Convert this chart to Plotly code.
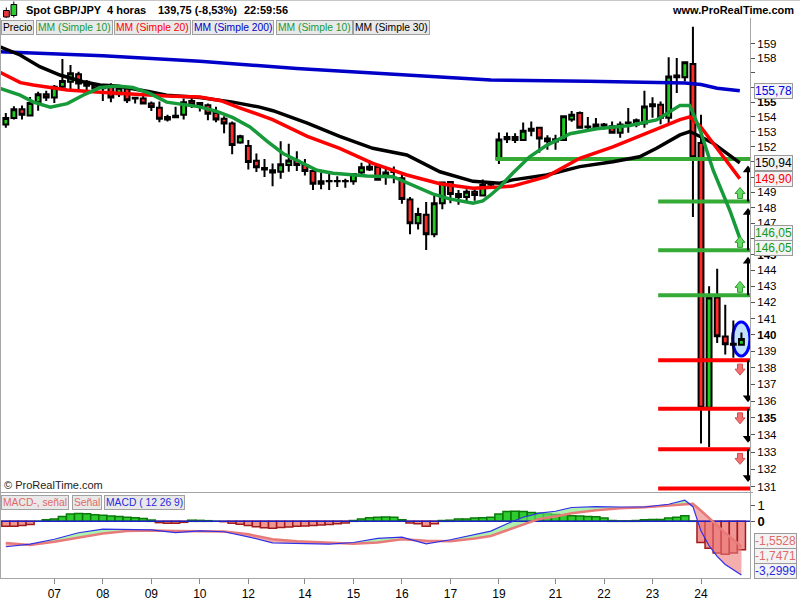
import math
import plotly.graph_objects as go

# ---------------- data ----------------
candle_idx = list(range(92))
opens = [153.49, 153.93, 154.51, 154.10, 155.00, 155.54, 155.31, 156.05, 156.39, 156.90,
         156.39, 156.17, 156.00, 156.17, 155.54, 155.94, 155.30, 155.24, 154.90, 154.62,
         153.82, 153.98, 154.15, 155.07, 154.94, 154.79, 154.26, 153.87, 153.55, 152.28,
         152.05, 151.08, 150.60, 150.45, 150.35, 150.80, 151.08, 150.80, 150.40, 149.56,
         149.75, 149.72, 149.72, 149.72, 150.30, 150.50, 150.68, 150.02, 150.35, 149.93,
         148.54, 147.00, 147.55, 146.30, 148.30, 149.68, 148.90, 148.70, 149.05, 148.80,
         149.50, 151.17, 152.50, 152.65, 152.45, 153.08, 153.27, 152.55, 152.35, 152.45,
         153.82, 154.26, 153.35, 153.33, 153.49, 153.37, 152.93, 153.60, 153.49, 153.55,
         154.72, 154.82, 153.95, 156.82, 156.70, 157.60, 152.25, 135.60, 142.30, 139.90,
         139.45, 139.40]
highs = [154.27, 154.72, 154.78, 155.35, 155.70, 155.77, 156.17, 157.95, 157.54, 157.07,
         156.50, 156.30, 156.05, 156.29, 156.17, 156.05, 155.35, 155.45, 155.05, 155.05,
         154.15, 154.68, 155.24, 155.31, 155.00, 154.90, 154.68, 154.04, 153.70, 152.80,
         152.45, 151.56, 151.20, 150.90, 152.37, 152.20, 151.70, 151.20, 150.58, 150.30,
         150.25, 150.05, 149.90, 150.25, 150.95, 151.10, 150.80, 150.68, 150.70, 150.13,
         148.70, 148.00, 148.37, 148.85, 149.70, 149.72, 149.15, 149.20, 149.30, 149.85,
         149.65, 152.95, 152.95, 152.90, 153.63, 153.70, 153.33, 152.77, 152.80, 154.08,
         154.40, 154.37, 154.00, 153.93, 153.60, 153.70, 153.70, 154.60, 153.90, 155.77,
         155.33, 155.05, 158.07, 158.02, 157.78, 160.20, 154.15, 143.00, 144.10, 141.86,
         140.88, 140.15]
lows = [153.27, 153.82, 153.82, 154.05, 154.42, 155.07, 154.94, 155.80, 155.83, 155.83,
        155.83, 155.80, 155.07, 155.00, 155.35, 154.94, 154.90, 154.90, 154.40, 153.64,
        153.70, 153.93, 153.82, 154.60, 154.36, 153.78, 153.64, 152.90, 151.50, 152.20,
        150.50, 150.33, 150.00, 149.40, 149.90, 150.35, 150.40, 150.10, 149.15, 149.20,
        149.15, 149.35, 149.30, 149.50, 150.10, 150.40, 149.98, 149.50, 149.60, 148.26,
        146.30, 146.60, 145.30, 146.10, 147.90, 148.30, 148.20, 148.37, 148.45, 148.80,
        149.30, 150.87, 152.25, 152.25, 152.40, 152.70, 151.60, 151.80, 151.80, 152.40,
        153.67, 153.20, 153.05, 153.15, 153.15, 152.93, 152.60, 152.93, 153.30, 153.27,
        153.95, 153.50, 153.50, 155.62, 156.42, 147.40, 133.50, 133.30, 139.50, 138.80,
        138.60, 139.35]
closes = [153.93, 154.51, 154.15, 154.94, 155.54, 155.31, 156.05, 156.44, 156.97, 156.27,
          156.12, 155.94, 155.95, 155.31, 155.98, 155.12, 155.25, 154.90, 154.67, 153.87,
          154.00, 154.08, 155.00, 154.85, 154.79, 154.21, 153.82, 153.55, 152.12, 152.70,
          151.00, 150.65, 150.50, 150.30, 150.84, 151.10, 150.80, 150.40, 149.56, 149.72,
          149.72, 149.75, 149.75, 150.20, 150.65, 150.68, 149.83, 150.30, 150.33, 148.57,
          147.00, 147.60, 146.30, 148.30, 149.65, 148.90, 148.70, 149.05, 148.83, 149.50,
          149.55, 152.48, 152.65, 152.45, 153.08, 153.20, 152.55, 152.37, 152.50, 154.04,
          154.15, 153.27, 153.30, 153.49, 153.40, 152.93, 153.49, 153.62, 153.78, 154.70,
          154.85, 153.95, 156.75, 156.70, 157.72, 151.30, 135.60, 142.30, 139.92, 139.43,
          139.40, 139.75]

day_tick_idx = [6, 12, 18, 24, 30, 37, 43, 49, 55, 61, 68, 74, 80, 86]
day_tick_labels = ["07", "08", "09", "10", "12", "14", "15", "16", "17", "19", "21", "22", "23", "24"]

sma10_x = [-0.72, 1.76, 3.4, 5.5, 7.6, 9.55, 11.65, 13.75, 15.7, 17.8, 19.9, 21.9, 24.0, 26.1,
           28.1, 30.2, 32.3, 34.3, 36.4, 38.5, 40.5, 44.7, 47.9, 48.8, 50.9, 52.8, 54.9, 57.8,
           59.0, 59.9, 61.1, 62.7, 64.8, 66.9, 69.8, 73.1, 77.2, 80.5, 83.4, 84.6, 85.9, 87.5,
           89.6, 90.8]
sma10_y = [155.94, 155.47, 155.00, 154.66, 154.90, 155.47, 155.99, 156.10, 155.99, 155.59,
           155.00, 154.83, 154.68, 154.37, 153.95, 153.33, 152.38, 151.56, 151.00, 150.45,
           150.25, 150.07, 150.03, 149.82, 149.30, 148.90, 148.58, 148.30, 148.45, 148.80,
           149.35, 150.25, 151.34, 152.10, 152.87, 153.20, 153.43, 153.80, 154.78, 154.78,
           153.10, 150.45, 147.78, 146.05]

sma20_x = [-0.72, 1.8, 3.4, 7.6, 11.7, 15.7, 19.9, 24.0, 26.6, 29.0, 31.4, 33.0, 37.3, 41.3,
           45.4, 49.6, 53.7, 57.8, 61.1, 62.7, 66.9, 71.0, 75.1, 79.3, 83.4, 84.6, 85.9, 87.5,
           90.8]
sma20_y = [157.03, 156.33, 156.17, 155.83, 155.67, 155.52, 155.42, 155.35, 155.10, 154.60,
           154.10, 153.82, 152.70, 151.90, 150.90, 150.14, 149.57, 149.27, 149.35, 149.41,
           150.03, 151.24, 152.00, 152.93, 153.82, 154.00, 153.37, 152.24, 149.90]

sma30_x = [-0.72, 1.76, 4.2, 6.7, 9.55, 11.65, 13.75, 15.7, 17.8, 19.9, 24.0, 28.1, 31.4,
           33.05, 37.3, 41.3, 45.4, 49.6, 53.7, 57.8, 61.1, 62.7, 66.9, 71.0, 75.1, 78.4,
           80.5, 83.4, 84.6, 85.9, 87.5, 90.8]
sma30_y = [158.80, 158.23, 157.42, 156.85, 156.39, 156.17, 156.10, 155.94, 155.71, 155.47,
           155.31, 155.00, 154.66, 154.42, 153.59, 152.70, 151.90, 151.46, 150.35, 149.72,
           149.60, 149.82, 150.14, 150.69, 151.01, 151.34, 151.90, 152.79, 153.02, 152.69,
           152.24, 150.94]

sma200_x = [-0.72, 12, 24, 36, 48, 60, 72, 80, 84, 86, 88, 90.8]
sma200_y = [158.45, 158.18, 157.80, 157.30, 156.90, 156.50, 156.42, 156.38, 156.30, 156.20,
            155.95, 155.78]

macd_x = [0, 3, 6, 9, 12, 15, 18, 21, 24, 27, 30, 33, 36, 40, 43, 46, 49, 52, 55, 58, 60,
          62, 64, 66, 68, 70, 73, 76, 79, 82, 84, 85, 86, 87, 88, 89, 90, 91]
macd_line = [-1.56, -1.40, -1.10, -0.70, -0.48, -0.48, -0.52, -0.69, -0.58, -0.64, -0.95,
             -1.32, -1.35, -1.40, -1.30, -1.05, -0.97, -1.38, -1.13, -0.80, -0.60, -0.15,
             0.25, 0.50, 0.62, 0.85, 0.90, 0.88, 0.88, 1.05, 1.30, 0.90, -0.60, -1.50,
             -2.15, -2.65, -3.00, -3.30]
macd_signal = [-1.33, -1.45, -1.25, -1.00, -0.75, -0.60, -0.56, -0.60, -0.62, -0.63, -0.80,
               -1.10, -1.22, -1.32, -1.37, -1.30, -1.10, -1.20, -1.22, -1.05, -0.90, -0.55,
               -0.20, 0.15, 0.30, 0.50, 0.68, 0.80, 0.86, 0.95, 1.05, 1.08, 0.65, 0.22,
               -0.25, -0.72, -1.15, -1.55]
macd_hist = [-0.30, -0.30, -0.25, -0.20, 0.00, 0.10, 0.15, 0.30, 0.45, 0.48,
             0.46, 0.40, 0.37, 0.33, 0.30, 0.25, 0.22, 0.18, 0.08, -0.08,
             -0.12, -0.12, -0.06, 0.07, 0.06, 0.04, 0.00, -0.02, -0.12, -0.18,
             -0.25, -0.33, -0.40, -0.42, -0.38, -0.35, -0.30, -0.28, -0.25, -0.22,
             -0.20, -0.15, -0.10, 0.05, 0.15, 0.22, 0.25, 0.27, 0.25, 0.10,
             -0.10, -0.15, -0.30, -0.15, 0.05, 0.07, 0.15, 0.15, 0.20, 0.22,
             0.25, 0.45, 0.60, 0.62, 0.60, 0.55, 0.50, 0.45, 0.42, 0.40,
             0.35, 0.32, 0.30, 0.28, 0.20, 0.05, 0.03, 0.03, 0.05, 0.10,
             0.12, 0.12, 0.20, 0.25, 0.35, 0.02, -1.30, -1.66, -1.94, -2.02,
             -1.94, -1.75]

green_levels = [151.19, 148.41, 145.27, 142.44]
green_level_start = [60.6, 80.7, 80.7, 80.7]
red_levels = [138.46, 135.54, 133.16, 130.90]
red_level_start = 80.7

price_ticks = list(range(131, 160))
price_ticks_hidden = [146, 150, 151, 156, 157]   # labels covered by value boxes in the original
price_labels = [(155.78, "155,78", "#0000ee", 0), (150.94, "150,94", "#000000", 0),
                (149.90, "149,90", "#ff0000", 0), (146.05, "146,05", "#119922", 5),
                (146.05, "146,05", "#119922", -10)]
macd_labels = [(-1.5528, "-1,5528", "#e06a6a", 6), (-1.7471, "-1,7471", "#e06a6a", -6),
               (-3.2999, "-3,2999", "#2a2ae0", 4)]

# ---------------- geometry ----------------
W, H = 800, 600
ML, MR, MT, MB = 0, 50, 18, 22
PW, PH = W - ML - MR, H - MT - MB
X_RANGE = [-0.72, 92.06]
P_RANGE = [130.70, 160.81]
M_RANGE = [-3.48, 1.74]
P_TOP, P_BOT = 18, 492       # price panel pixels
M_TOP = 493
FONT = "Liberation Sans, Arial, sans-serif"

GREEN_C = "#1fcc1f"
RED_C = "#ff2a2a"
MA10_C = "#179a3a"
MA20_C = "#ff0000"
MA30_C = "#000000"
MA200_C = "#0000c8"


def paper_x(px):
    return (px - ML) / PW


def paper_y(py):
    return (H - MB - py) / PH


px_per_idx = PW / (X_RANGE[1] - X_RANGE[0])
px_per_ln = (P_BOT - P_TOP) / math.log(P_RANGE[1] / P_RANGE[0])


def shift_price(p, dpx):
    return p * math.exp(dpx / px_per_ln)


def price_to_py(p):
    return P_TOP + math.log(P_RANGE[1] / p) * px_per_ln


def idx_at_px(px):
    return X_RANGE[0] + px / px_per_idx


fig = go.Figure()

# level lines
for lvl, st in zip(green_levels, green_level_start):
    fig.add_trace(go.Scatter(x=[st, X_RANGE[1]], y=[lvl, lvl], mode="lines",
                             line=dict(color="#35aa35", width=4), hoverinfo="skip"))
for lvl in red_levels:
    fig.add_trace(go.Scatter(x=[red_level_start, X_RANGE[1]], y=[lvl, lvl], mode="lines",
                             line=dict(color="#ff0000", width=4), hoverinfo="skip"))

# candles
fig.add_trace(go.Candlestick(
    x=candle_idx, open=opens, high=highs, low=lows, close=closes,
    increasing=dict(fillcolor=GREEN_C, line=dict(color="black", width=2)),
    decreasing=dict(fillcolor=RED_C, line=dict(color="black", width=2)),
    whiskerwidth=0, hoverinfo="skip", xaxis="x", yaxis="y"))

# moving averages
for xs, ys, col in [(sma200_x, sma200_y, MA200_C), (sma30_x, sma30_y, MA30_C),
                    (sma20_x, sma20_y, MA20_C), (sma10_x, sma10_y, MA10_C)]:
    fig.add_trace(go.Scatter(x=xs, y=ys, mode="lines", line=dict(color=col, width=3.5),
                             hoverinfo="skip", xaxis="x", yaxis="y"))

# black arrows between levels
arrow_x = idx_at_px(748)
shaft_x, shaft_y, head_x, head_y, head_sym = [], [], [], [], []
for k in range(1, len(green_levels)):
    tip = shift_price(green_levels[k - 1], -7)
    hc = shift_price(tip, -4)
    shaft_x += [arrow_x, arrow_x, None]
    shaft_y += [green_levels[k], hc, None]
    head_x.append(arrow_x); head_y.append(hc); head_sym.append("triangle-up")
for k in range(len(red_levels) - 1):
    tip = shift_price(red_levels[k + 1], 7)
    hc = shift_price(tip, 4)
    shaft_x += [arrow_x, arrow_x, None]
    shaft_y += [red_levels[k], hc, None]
    head_x.append(arrow_x); head_y.append(hc); head_sym.append("triangle-down")
fig.add_trace(go.Scatter(x=shaft_x, y=shaft_y, mode="lines", line=dict(color="black", width=2),
                         hoverinfo="skip"))
fig.add_trace(go.Scatter(x=head_x, y=head_y, mode="markers",
                         marker=dict(symbol=head_sym, size=9, color="black"), hoverinfo="skip"))


# fat coloured arrows near levels
def fat_arrow(xc, base, up):
    s = 1 if up else -1
    pts = [(-2.5, 0), (-2.5, 5), (-5, 5), (0, 11), (5, 5), (2.5, 5), (2.5, 0), (-2.5, 0)]
    xs = [xc + dx / px_per_idx for dx, dy in pts]
    ys = [shift_price(base, s * dy) for dx, dy in pts]
    return xs, ys


fa_x = idx_at_px(740)
gx, gy = [], []
for lvl in green_levels[1:]:
    xs, ys = fat_arrow(fa_x, shift_price(lvl, 3), True)
    gx += xs + [None]; gy += ys + [None]
fig.add_trace(go.Scatter(x=gx, y=gy, mode="lines", fill="toself", fillcolor="#66d866",
                         line=dict(color="#2f9f2f", width=1), hoverinfo="skip"))
rx, ry = [], []
for lvl in red_levels[:-1]:
    xs, ys = fat_arrow(fa_x, shift_price(lvl, -4), False)
    rx += xs + [None]; ry += ys + [None]
fig.add_trace(go.Scatter(x=rx, y=ry, mode="lines", fill="toself", fillcolor="#f07272",
                         line=dict(color="#d84a4a", width=1), hoverinfo="skip"))

# ---------------- MACD panel ----------------
fig.add_trace(go.Bar(
    x=candle_idx, y=macd_hist, width=1.0, xaxis="x", yaxis="y2",
    marker=dict(color=["#2ecc2e" if v >= 0 else "#f09494" for v in macd_hist],
                line=dict(color=["#0a7a0a" if v >= 0 else "#a01c1c" for v in macd_hist], width=1.5)),
    hoverinfo="skip"))

fgx, fgy, frx, fry = [], [], [], []
for j in range(len(macd_x) - 1):
    x0, x1 = macd_x[j], macd_x[j + 1]
    m0, m1 = macd_line[j], macd_line[j + 1]
    s0, s1 = macd_signal[j], macd_signal[j + 1]
    d0, d1 = m0 - s0, m1 - s1
    if d0 * d1 < 0:
        t = d0 / (d0 - d1)
        xc = x0 + t * (x1 - x0)
        yc = m0 + t * (m1 - m0)
        polys = [([x0, xc, x0, x0], [m0, yc, s0, m0], d0), ([xc, x1, x1, xc], [yc, m1, s1, yc], d1)]
    else:
        polys = [([x0, x1, x1, x0, x0], [m0, m1, s1, s0, m0], d0 + d1)]
    for px_, py_, d in polys:
        if d >= 0:
            fgx += px_ + [None]; fgy += py_ + [None]
        else:
            frx += px_ + [None]; fry += py_ + [None]
fig.add_trace(go.Scatter(x=fgx, y=fgy, mode="lines", fill="toself", fillcolor="rgba(120,232,120,0.6)",
                         line=dict(width=0), xaxis="x", yaxis="y2", hoverinfo="skip"))
fig.add_trace(go.Scatter(x=frx, y=fry, mode="lines", fill="toself", fillcolor="rgba(236,120,120,0.6)",
                         line=dict(width=0), xaxis="x", yaxis="y2", hoverinfo="skip"))
fig.add_trace(go.Scatter(x=X_RANGE, y=[0, 0], mode="lines", line=dict(color="#2020c8", width=1.5),
                         xaxis="x", yaxis="y2", hoverinfo="skip"))
fig.add_trace(go.Scatter(x=macd_x, y=macd_signal, mode="lines", line=dict(color="#e87a7a", width=2.5),
                         xaxis="x", yaxis="y2", hoverinfo="skip"))
fig.add_trace(go.Scatter(x=macd_x, y=macd_line, mode="lines", line=dict(color="#3030e8", width=1.2),
                         xaxis="x", yaxis="y2", hoverinfo="skip"))

# ---------------- shapes ----------------
shapes = []
# highlight ellipse around last candle
last = candle_idx[-1]
mid = (highs[-1] + lows[-1]) / 2
shapes.append(dict(type="circle", xref="x", yref="paper", layer="below",
                   x0=last - 1.1, x1=last + 1.05,
                   y0=paper_y(price_to_py(shift_price(mid, -17))),
                   y1=paper_y(price_to_py(shift_price(mid, 17))),
                   line=dict(color="#0000ff", width=3), fillcolor="#c2e0ff"))
grey = "#a6a6a6"
shapes.append(dict(type="line", xref="paper", yref="paper", x0=0, x1=paper_x(753),
                   y0=paper_y(492.5), y1=paper_y(492.5), line=dict(color=grey, width=1)))
shapes.append(dict(type="line", xref="paper", yref="paper", x0=paper_x(0.5), x1=paper_x(0.5),
                   y0=paper_y(18), y1=paper_y(579), line=dict(color=grey, width=1)))
shapes.append(dict(type="line", xref="paper", yref="paper", x0=0, x1=paper_x(800),
                   y0=paper_y(0.5), y1=paper_y(0.5), line=dict(color="#c8c8c8", width=1)))
# title icon (small candles)
shapes += [
    dict(type="line", xref="paper", yref="paper", x0=paper_x(6.3), x1=paper_x(6.3),
         y0=paper_y(7.5), y1=paper_y(18), line=dict(color="black", width=1)),
    dict(type="rect", xref="paper", yref="paper", x0=paper_x(3.5), x1=paper_x(9.3),
         y0=paper_y(10.5), y1=paper_y(17), line=dict(color="black", width=1), fillcolor="#e23a3a"),
    dict(type="line", xref="paper", yref="paper", x0=paper_x(13.8), x1=paper_x(13.8),
         y0=paper_y(1.5), y1=paper_y(17.5), line=dict(color="black", width=1)),
    dict(type="rect", xref="paper", yref="paper", x0=paper_x(11), x1=paper_x(16.7),
         y0=paper_y(4.5), y1=paper_y(15.5), line=dict(color="black", width=1), fillcolor="#2fcc2f"),
]

# ---------------- annotations ----------------
anns = []


def txt(px, py, text, color="black", size=11, xanchor="left", box=False):
    d = dict(xref="paper", yref="paper", x=paper_x(px), y=paper_y(py), text=text, showarrow=False,
             xanchor=xanchor, yanchor="middle", font=dict(family=FONT, size=size, color=color))
    if box:
        d.update(bgcolor="#e9e9e9", bordercolor="#a0a0a0", borderwidth=1, borderpad=1)
    return d


anns.append(txt(24, 10, "<b>Spot GBP/JPY</b>", size=11))
anns.append(txt(105, 10, "<b>4 horas</b>", size=11))
anns.append(txt(156, 10, "<b>139,75 (-8,53%)</b>", size=11))
anns.append(txt(242, 10, "<b>22:59:56</b>", size=11))
anns.append(txt(796, 10, "<b>www.ProRealTime.com</b>", size=11, xanchor="right"))

legend_items = [("Precio", "#000000", 1), ("MM (Simple 10)", MA10_C, 36), ("MM (Simple 20)", MA20_C, 114),
                ("MM (Simple 200)", MA200_C, 192), ("MM (Simple 10)", MA10_C, 276),
                ("MM (Simple 30)", MA30_C, 353)]
for t, c, x in legend_items:
    anns.append(txt(x, 27.5, t, color=c, size=10.3, box=True))

macd_legend = [("MACD-, señal", "#e06a6a", 1), ("Señal", "#e06a6a", 72), ("MACD ( 12 26 9)", "#2a2ae0", 104)]
for t, c, x in macd_legend:
    anns.append(txt(x, 502, t, color=c, size=10.3, box=True))

anns.append(txt(2, 485, "© ProRealTime.com", color="#222222", size=11))

for val, t, c, sh in price_labels:
    anns.append(dict(xref="paper", yref="y", x=paper_x(754), y=math.log10(val), yshift=sh, text=t,
                     showarrow=False, xanchor="left", yanchor="middle",
                     font=dict(family=FONT, size=12, color=c), bgcolor="#f3f3f3",
                     bordercolor="#9a9a9a", borderwidth=1, borderpad=0))
for val, t, c, sh in macd_labels:
    anns.append(dict(xref="paper", yref="y2", x=paper_x(754), y=val, yshift=sh, text=t,
                     showarrow=False, xanchor="left", yanchor="middle",
                     font=dict(family=FONT, size=12, color=c), bgcolor="#f3f3f3",
                     bordercolor="#9a9a9a", borderwidth=1, borderpad=0))

price_ticktext = []
for v in price_ticks:
    if v in price_ticks_hidden:
        price_ticktext.append("")
    elif v % 5 == 0:
        price_ticktext.append("<b>%d</b>" % v)
    else:
        price_ticktext.append(str(v))

fig.update_layout(
    width=W, height=H, margin=dict(l=ML, r=MR, t=MT, b=MB, autoexpand=False),
    paper_bgcolor="white", plot_bgcolor="white", showlegend=False,
    boxgap=0.14, bargap=0, hovermode=False,
    font=dict(family=FONT, size=11, color="black"),
    xaxis=dict(domain=[0, 1], range=X_RANGE, anchor="y2", tickmode="array", automargin=False,
               tickvals=day_tick_idx, ticktext=day_tick_labels, ticks="outside", ticklen=5,
               tickcolor="#888888", showline=True, linecolor=grey, showgrid=False,
               zeroline=False, rangeslider=dict(visible=False), tickfont=dict(size=12),
               fixedrange=True),
    yaxis=dict(domain=[paper_y(P_BOT), 1], type="log", automargin=False,
               range=[math.log10(P_RANGE[0]), math.log10(P_RANGE[1])], side="right",
               anchor="x", tickmode="array", tickvals=price_ticks, ticktext=price_ticktext,
               ticks="outside", ticklen=4, tickcolor="#555555", showline=True, linecolor=grey,
               showgrid=False, zeroline=False, tickfont=dict(size=11.5), fixedrange=True),
    yaxis2=dict(domain=[0, paper_y(M_TOP)], range=M_RANGE, side="right", anchor="x",
                automargin=False,
                tickmode="array", tickvals=[0, 1], ticktext=["<b>0</b>", "1"], ticks="outside",
                ticklen=4, tickcolor="#555555", showline=True, linecolor=grey, showgrid=False,
                zeroline=False, tickfont=dict(size=13), fixedrange=True),
    shapes=shapes, annotations=anns,
)

fig.write_html("out.html", config={"displayModeBar": False, "staticPlot": True},
               post_script="document.body.style.margin='0px';document.body.style.overflow='hidden';")
